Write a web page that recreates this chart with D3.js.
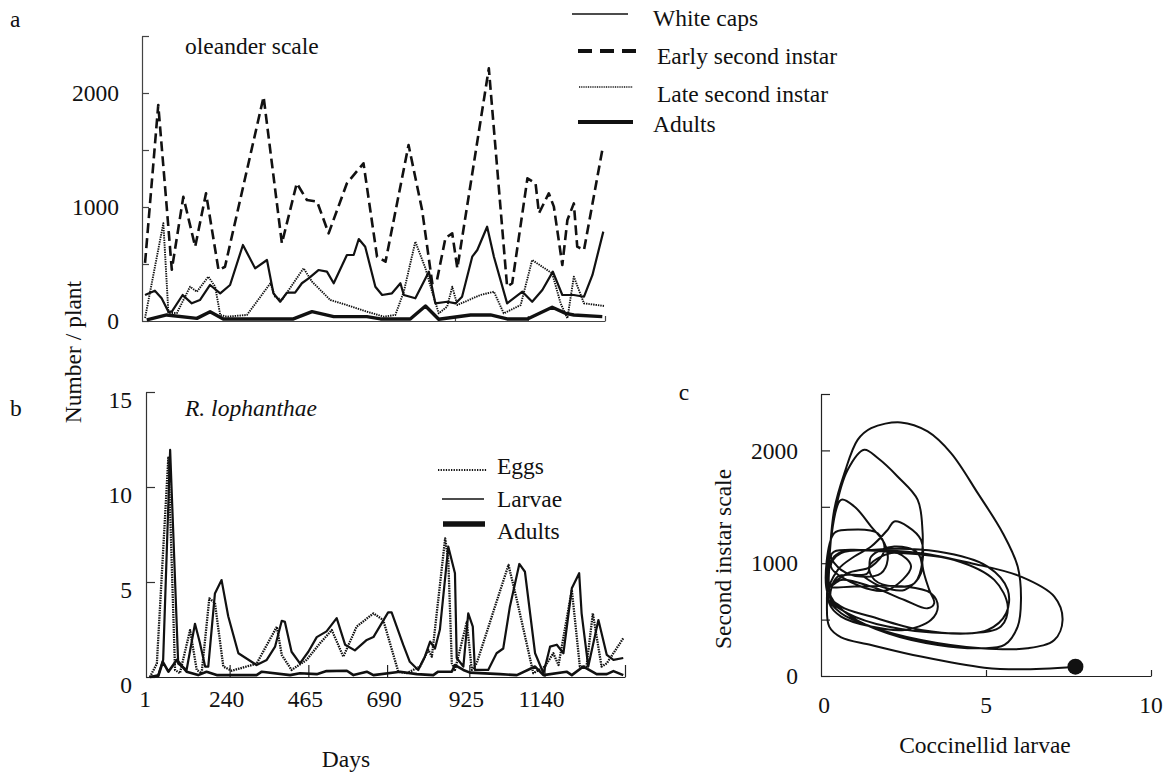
<!DOCTYPE html>
<html>
<head>
<meta charset="utf-8">
<script src="https://cdn.jsdelivr.net/npm/d3@7"></script>
<style>
  body { margin: 0; background: #fff; }
  text { font-family: "Liberation Serif", "Times New Roman", serif; font-size: 23.5px; fill: #111; }
</style>
</head>
<body>
<svg id="fig" width="1171" height="773" font-family="Liberation Serif"></svg>
<script>
// ---------- data: panel a, oleander scale (number / plant) as [day, value] ----------
const whiteCaps = [[10,228],[39,266],[59,199],[79,82],[89,82],[121,228],[148,155],[172,184],[202,316],[232,243],[261,316],[299,667],[335,462],[370,535],[389,243],[409,169],[429,249],[453,249],[473,331],[493,374],[522,447],[547,433],[567,331],[606,579],[626,579],[641,719],[660,652],[690,301],[710,228],[739,243],[764,331],[774,228],[808,199],[848,433],[867,155],[902,169],[927,155],[946,213],[976,564],[991,623],[1020,827],[1040,564],[1079,155],[1124,257],[1153,169],[1183,272],[1214,433],[1242,228],[1276,228],[1306,213],[1331,404],[1363,784]];
const earlySecond = [[10,509],[49,1895],[74,1000],[89,450],[123,1090],[158,652],[190,1120],[227,447],[246,476],[360,1967],[414,681],[458,1208],[488,1061],[518,1047],[552,769],[606,1208],[655,1383],[695,564],[720,520],[788,1544],[828,974],[858,331],[872,360],[897,728],[917,769],[932,462],[1025,2216],[1079,301],[1094,331],[1139,1252],[1163,1208],[1173,945],[1202,1120],[1217,1003],[1242,491],[1257,886],[1276,1032],[1286,652],[1306,623],[1360,1500]];
const lateSecond = [[10,26],[64,857],[79,70],[104,70],[143,301],[163,257],[197,389],[217,301],[232,53],[251,38],[311,53],[380,331],[394,213],[414,184],[478,462],[503,345],[557,184],[606,140],[665,82],[715,38],[749,53],[774,257],[808,696],[838,462],[853,301],[877,67],[902,126],[917,301],[932,140],[1000,228],[1040,257],[1069,67],[1119,140],[1153,535],[1212,418],[1237,155],[1257,23],[1276,389],[1306,155],[1365,132]];
const scaleAdults = [[15,9],[74,53],[163,23],[202,82],[241,18],[448,18],[503,82],[567,38],[665,38],[705,18],[793,18],[838,132],[877,15],[971,53],[1030,53],[1079,18],[1139,18],[1212,120],[1252,67],[1276,53],[1360,38]];

// ---------- data: panel b, R. lophanthae (number / plant) as [day, value] ----------
const eggs = [[12,0],[32,0.7],[65,11.6],[84,0.37],[98,0.2],[127,2.47],[146,0.37],[160,0.2],[182,4.14],[198,3.9],[222,0.55],[246,0.33],[317,0.7],[375,2.65],[389,1.16],[417,0.37],[460,0.9],[498,1.77],[532,2.47],[565,1.07],[603,2.65],[651,3.35],[679,3.0],[722,0.28],[746,0.2],[784,0.55],[808,1.42],[818,1.07],[856,7.3],[865,6.16],[875,0.72],[884,0.37],[918,2.9],[932,0.37],[946,0.72],[1037,5.9],[1061,4.05],[1108,0.2],[1141,0.55],[1165,1.25],[1180,0.63],[1218,4.58],[1241,0.55],[1260,0.55],[1278,3.35],[1303,0.55],[1318,0.72],[1365,2.04]];
const larvae = [[12,0],[36,0.1],[50,0.9],[70,11.95],[93,0.7],[117,0.37],[141,2.8],[155,1.8],[170,0.55],[179,0.55],[198,4.4],[217,5.1],[236,3.2],[265,1.25],[317,0.63],[346,0.9],[370,1.6],[389,2.96],[398,2.9],[417,1.33],[441,0.72],[465,1.33],[489,2.1],[517,2.4],[546,3.1],[570,1.7],[598,1.4],[632,1.95],[651,2.1],[693,3.4],[703,3.4],[736,1.7],[755,0.8],[779,0.37],[798,1.07],[813,1.86],[827,1.5],[841,2.5],[865,6.86],[884,5.46],[889,1.0],[908,0.55],[922,3.35],[935,2.65],[941,0.37],[979,0.37],[1003,1.25],[1022,1.5],[1041,3.7],[1068,5.95],[1084,5.54],[1113,1.25],[1137,0.2],[1156,1.6],[1175,1.7],[1194,1.25],[1218,4.67],[1239,5.46],[1246,3.35],[1265,0.55],[1294,3.0],[1318,1.16],[1337,0.9],[1365,1.0]];
const beetleAdults = [[12,0],[36,0.05],[49,0.8],[65,0.28],[89,0.9],[117,0.28],[150,0.1],[174,0.28],[203,0.1],[317,0.1],[332,0.28],[413,0.1],[441,0.2],[489,0.15],[517,0.31],[575,0.33],[594,0.1],[632,0.28],[651,0.1],[727,0.28],[775,0.15],[822,0.1],[836,0.28],[875,0.28],[884,0.63],[908,0.37],[927,0.23],[1013,0.15],[1061,0.1],[1113,0.55],[1137,0.1],[1203,0.28],[1218,0.1],[1251,0.55],[1289,0.15],[1318,0.15],[1337,0.31],[1365,0.1]];

// ---------- data: panel c, phase trajectory (coccinellid larvae vs second instar scale) ----------
const phaseLarvae = [7.71,6.06,4.95,3.03,1.52,0.61,0.25,0.18,0.25,0.40,0.71,1.11,1.52,2.42,3.23,3.94,4.75,5.51,5.96,6.06,5.96,5.56,4.85,3.54,2.02,0.91,0.30,
  0.25,0.40,0.81,1.31,1.72,2.32,2.93,3.08,3.08,3.28,3.43,3.23,2.53,1.52,0.61,0.25,
  0.30,0.61,1.01,1.52,1.92,2.02,1.82,1.21,0.61,0.30,
  0.40,1.21,3.03,4.55,6.06,7.07,7.32,7.07,6.26,4.85,3.03,1.52,0.61,0.20,
  0.51,1.01,1.52,2.02,2.22,2.63,3.03,3.08,2.83,2.22,1.62,1.46,1.82,2.32,2.73,
  2.02,1.21,0.30,0.61,2.53,4.04,5.25,5.66,5.45,4.55,3.03,1.52,0.61,0.20,
  0.40,0.81,1.72,1.92,1.52,0.81,
  0.30,1.01,2.53,3.33,3.54,3.33,2.53,1.52,0.61,0.25,
  0.40,1.52,3.54,5.05,5.66,5.61,5.05,3.84,2.02,0.81,0.30,
  0.50,1.41,1.52,2.22,2.93,3.03,2.53,1.82,1.30];
const phaseInstar = [83,59,74,172,275,343,438,674,1029,1473,1798,2094,2198,2248,2168,1976,1621,1266,970,674,438,275,246,275,379,527,704,
  970,1414,1828,2006,1932,1769,1562,1266,970,763,645,600,674,793,852,793,
  1207,1562,1503,1325,1177,1029,911,881,941,1059,
  1103,1118,1089,1000,881,704,497,319,246,246,319,438,556,704,
  941,1059,1148,1296,1370,1325,1207,1029,822,793,852,970,1059,1089,970,
  763,793,970,1089,1089,1029,852,615,438,379,408,527,615,734,
  1266,1296,1266,1118,970,911,
  793,793,793,734,615,497,408,438,527,645,
  1059,1118,1103,970,763,556,408,379,438,556,674,
  880,911,1059,1148,1089,911,763,793,880];

// ---------- tick values and labels ----------
const dayTicks = [1, 240, 465, 690, 925, 1140];
const scaleTicksA = [0, 500, 1000, 1500, 2000, 2500];
const scaleLabelsA = [0, 1000, 2000];
const beetleTicks = [0, 5, 10, 15];
const instarTicks = [0, 500, 1000, 1500, 2000, 2500];
const instarLabels = [0, 1000, 2000];
const larvaeTicks = [0, 5, 10];

const svg = d3.select("#fig");
svg.append("rect").attr("width", 1171).attr("height", 773).attr("fill", "#fff");

// line styles
const styles = {
  white:  { w: 2.2, dash: null },
  early:  { w: 2.6, dash: "10,5" },
  late:   { w: 1.9, dash: "1.4,1" },
  adultA: { w: 3.4, dash: null },
  eggs:   { w: 2.3, dash: "1.5,1" },
  larvae: { w: 2.2, dash: null },
  adultB: { w: 2.6, dash: null }
};

function drawSeries(g, data, x, y, st) {
  g.append("path")
    .datum(data)
    .attr("fill", "none")
    .attr("stroke", "#111")
    .attr("stroke-width", st.w)
    .attr("stroke-dasharray", st.dash)
    .attr("stroke-linejoin", "round")
    .attr("d", d3.line().x(d => x(d[0])).y(d => y(d[1])));
}

function styleAxis(g, color) {
  g.selectAll("path.domain").attr("stroke", color).attr("stroke-width", 1.2);
  g.selectAll(".tick line").attr("stroke", color).attr("stroke-width", 1.2);
  g.selectAll("text").remove();
}

// ================= panel a =================
const xa = d3.scaleLinear().domain([1, 1368]).range([142, 605]);
const ya = d3.scaleLinear().domain([0, 2500]).range([321, 36]);

const ga = svg.append("g");
const axA = ga.append("g").attr("transform", `translate(${xa.range()[0]},0)`)
  .call(d3.axisLeft(ya).tickValues(scaleTicksA).tickSize(-7).tickSizeOuter(0));
styleAxis(axA, "#444");
const axAx = ga.append("g").attr("transform", `translate(0,${ya(0)})`)
  .call(d3.axisBottom(xa).tickValues([925, 1140, 1368]).tickSize(-5).tickSizeOuter(0));
styleAxis(axAx, "#444");

ga.selectAll("text.ylab").data(scaleLabelsA).enter().append("text")
  .attr("x", 119).attr("y", d => ya(d)).attr("dy", "0.35em")
  .attr("text-anchor", "end").text(d => d);

drawSeries(ga, lateSecond, xa, ya, styles.late);
drawSeries(ga, earlySecond, xa, ya, styles.early);
drawSeries(ga, whiteCaps, xa, ya, styles.white);
drawSeries(ga, scaleAdults, xa, ya, styles.adultA);

ga.append("text").attr("x", 185).attr("y", 54).text("oleander scale");
svg.append("text").attr("x", 10).attr("y", 27).text("a");

// legend a
const legA = [
  { name: "White caps", lx1: 572, lx2: 628, ly: 14, ty: 26, tx: 653, w: 1.6, dash: null },
  { name: "Early second instar", lx1: 578, lx2: 637, ly: 51, ty: 64, tx: 657, w: 3.8, dash: "14,8" },
  { name: "Late second instar", lx1: 579, lx2: 633, ly: 87, ty: 102, tx: 657, w: 1.5, dash: "1,0.8" },
  { name: "Adults", lx1: 578, lx2: 633, ly: 122, ty: 132, tx: 653, w: 4.2, dash: null }
];
legA.forEach(d => {
  svg.append("line").attr("x1", d.lx1).attr("x2", d.lx2).attr("y1", d.ly).attr("y2", d.ly)
    .attr("stroke", "#111").attr("stroke-width", d.w).attr("stroke-dasharray", d.dash);
  svg.append("text").attr("x", d.tx).attr("y", d.ty).text(d.name);
});

// ================= panel b =================
const xb = d3.scaleLinear().domain([1, 1370]).range([146, 625]);
const yb = d3.scaleLinear().domain([0, 15]).range([677, 392]);

const gb = svg.append("g");
const axB = gb.append("g").attr("transform", `translate(${xb.range()[0]},0)`)
  .call(d3.axisLeft(yb).tickValues(beetleTicks).tickSize(-9).tickSizeOuter(0));
styleAxis(axB, "#333");
const axBx = gb.append("g").attr("transform", `translate(0,${yb(0)})`)
  .call(d3.axisBottom(xb).tickValues(dayTicks.slice(1).concat([1370])).tickSize(-12).tickSizeOuter(0));
styleAxis(axBx, "#222");

gb.selectAll("text.ylab").data(beetleTicks).enter().append("text")
  .attr("x", 132).attr("y", d => yb(d) + 8).attr("dy", "0.35em")
  .attr("text-anchor", "end").text(d => d);
gb.selectAll("text.xlab").data(dayTicks).enter().append("text")
  .attr("x", d => d === 1 ? 145 : xb(d) - 3).attr("y", 707)
  .attr("text-anchor", "middle").text(d => d);

drawSeries(gb, eggs, xb, yb, styles.eggs);
drawSeries(gb, beetleAdults, xb, yb, styles.adultB);
drawSeries(gb, larvae, xb, yb, styles.larvae);

gb.append("text").attr("x", 185).attr("y", 416).attr("font-style", "italic").text("R. lophanthae");
svg.append("text").attr("x", 10).attr("y", 416).text("b");
svg.append("text").attr("x", 346).attr("y", 767).attr("text-anchor", "middle").text("Days");
svg.append("text").attr("transform", "translate(81,352) rotate(-90)")
  .attr("text-anchor", "middle").text("Number / plant");

// legend b
const legB = [
  { name: "Eggs", lx1: 438, lx2: 487, ly: 470, ty: 474, w: 2.2, dash: "1.3,1.3" },
  { name: "Larvae", lx1: 442, lx2: 484, ly: 499, ty: 507, w: 1.6, dash: null },
  { name: "Adults", lx1: 443, lx2: 485, ly: 524, ty: 539, w: 5.5, dash: null }
];
legB.forEach(d => {
  svg.append("line").attr("x1", d.lx1).attr("x2", d.lx2).attr("y1", d.ly).attr("y2", d.ly)
    .attr("stroke", "#111").attr("stroke-width", d.w).attr("stroke-dasharray", d.dash);
  svg.append("text").attr("x", 497).attr("y", d.ty).text(d.name);
});

// ================= panel c =================
const xc = d3.scaleLinear().domain([0, 10]).range([821, 1151]);
const yc = d3.scaleLinear().domain([0, 2500]).range([676, 394]);

const gc = svg.append("g");
const axC = gc.append("g").attr("transform", `translate(${xc(0)},0)`)
  .call(d3.axisLeft(yc).tickValues(instarTicks).tickSize(-9).tickSizeOuter(0));
styleAxis(axC, "#222");
const axCx = gc.append("g").attr("transform", `translate(0,${yc(0)})`)
  .call(d3.axisBottom(xc).tickValues([5, 10]).tickSize(-6).tickSizeOuter(0));
styleAxis(axCx, "#222");

gc.selectAll("text.ylab").data(instarLabels).enter().append("text")
  .attr("x", 798).attr("y", d => yc(d)).attr("dy", "0.35em")
  .attr("text-anchor", "end").text(d => d);
gc.selectAll("text.xlab").data(larvaeTicks).enter().append("text")
  .attr("x", d => xc(d) + (d === 0 ? 3 : 0)).attr("y", 713)
  .attr("text-anchor", "middle").text(d => d);

const phase = phaseLarvae.map((v, i) => [v, phaseInstar[i]]);
gc.append("path")
  .datum(phase)
  .attr("fill", "none").attr("stroke", "#111").attr("stroke-width", 2)
  .attr("d", d3.line().x(d => xc(d[0])).y(d => yc(d[1])).curve(d3.curveCatmullRom.alpha(0.5)));
gc.append("circle")
  .attr("cx", xc(phase[0][0])).attr("cy", yc(phase[0][1])).attr("r", 8).attr("fill", "#111");

svg.append("text").attr("x", 684).attr("y", 400).attr("text-anchor", "middle").text("c");
svg.append("text").attr("x", 985).attr("y", 753).attr("text-anchor", "middle").text("Coccinellid larvae");
svg.append("text").attr("transform", "translate(731,559) rotate(-90)")
  .attr("text-anchor", "middle").text("Second instar scale");
</script>
</body>
</html>
